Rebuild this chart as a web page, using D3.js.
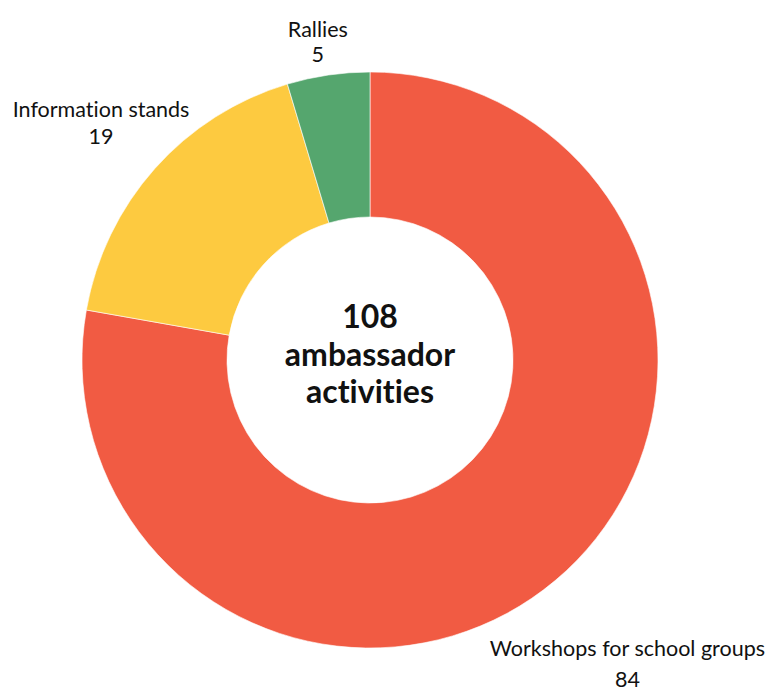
<!DOCTYPE html>
<html lang="en">
<head>
	<meta charset="UTF-8">
	<title>Ambassador activities</title>
	<script src="https://cdn.jsdelivr.net/npm/d3@7/dist/d3.min.js"></script>
	<style>
		body { margin: 0; background: #fff; }
		text { font-family: "Lato", "Open Sans", sans-serif; fill: #111; font-variant-ligatures: none; }
	</style>
</head>
<body>
	<svg id="svg"></svg>
	<script>
		var categories = ["Workshops for school groups", "Information stands", "Rallies"];
		var values = [84, 19, 5];
		var colors = ["#F15B43", "#FDCA40", "#55A66E"];
		var centerLines = ["108", "ambassador", "activities"];

		// label layout only: nudge from the label arc centroid, gap between name and value
		var labelNudge = [[26, 26], [0, 2], [0, 39]];
		var labelGap = [31, 27, 25];

		var w = 772, h = 692,
			cx = 370, cy = 360,
			outerR = 288, innerR = 143, labelR = 360;

		var svg = d3.select("#svg").attr("width", w).attr("height", h);

		var data = categories.map(function(c, i) {
			return {name: c, value: values[i], color: colors[i]};
		});

		var pie = d3.pie().sort(null).value(function(d) { return d.value; });
		var arc = d3.arc().innerRadius(innerR).outerRadius(outerR);
		var labelArc = d3.arc().innerRadius(labelR).outerRadius(labelR);

		var g = svg.append("g").attr("transform", "translate(" + cx + "," + cy + ")");
		var arcs = pie(data);

		g.selectAll("path.slice")
			.data(arcs)
			.enter().append("path")
			.attr("class", "slice")
			.attr("d", arc)
			.attr("fill", function(d) { return d.data.color; })
			.attr("stroke", "#fff")
			.attr("stroke-width", 0.6);

		var labels = g.selectAll("g.label")
			.data(arcs)
			.enter().append("g")
			.attr("class", "label")
			.attr("transform", function(d, i) {
				var c = labelArc.centroid(d);
				return "translate(" + (c[0] + labelNudge[i][0]) + "," + (c[1] + labelNudge[i][1]) + ")";
			});

		labels.append("text")
			.attr("text-anchor", "middle")
			.attr("y", -6)
			.style("font-size", "21.5px")
			.text(function(d) { return d.data.name; });
		labels.append("text")
			.attr("text-anchor", "middle")
			.attr("y", function(d, i) { return -6 + labelGap[i]; })
			.style("font-size", "21.5px")
			.text(function(d) { return d.data.value; });

		g.selectAll("text.center")
			.data(centerLines)
			.enter().append("text")
			.attr("class", "center")
			.attr("text-anchor", "middle")
			.attr("y", function(d, i) { return -32 + i * 37.5; })
			.style("font-size", "32px")
			.style("font-weight", "bold")
			.text(function(d) { return d; });
	</script>
</body>
</html>
